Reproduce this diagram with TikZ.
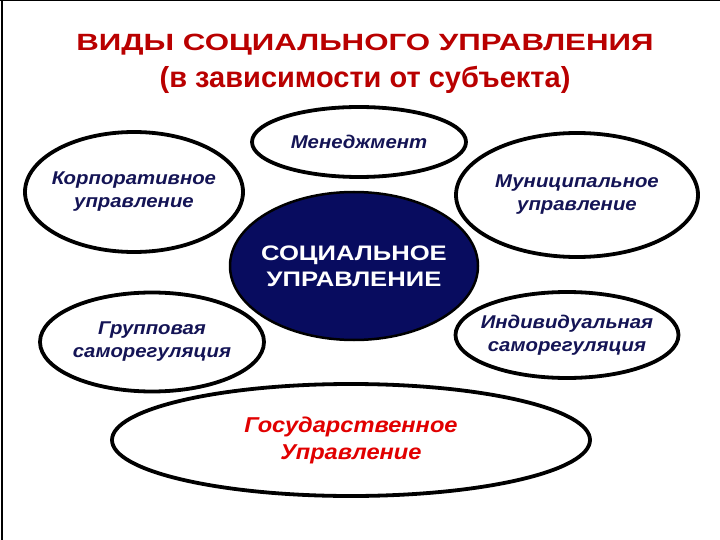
\documentclass[tikz,border=0pt]{standalone}
\usepackage{fontspec}
\setmainfont{Liberation Sans}
\newfontfamily\titlefont[FakeStretch=1.33]{Liberation Sans}
\newfontfamily\corefont[FakeStretch=1.22]{Liberation Sans}
\newfontfamily\labelfont[FakeStretch=1.1]{Liberation Sans}
\usepackage{xcolor}
\usetikzlibrary{shapes}
\usetikzlibrary{positioning}
\definecolor{titlered}{RGB}{185,0,0}
\definecolor{labelnavy}{RGB}{20,20,85}
\definecolor{corenavy}{RGB}{8,12,95}
\definecolor{statered}{RGB}{225,0,0}

\begin{document}
\begin{tikzpicture}[x=1pt, y=-1pt]
% tikz settings
\tikzstyle{block} = [ellipse, draw, line width=3.8pt, fill=white, inner xsep=-12pt, inner ysep=0pt,
    text=labelnavy, align=center, font=\labelfont\fontsize{18.5}{23}\selectfont\bfseries\itshape]
\tikzstyle{core} = [ellipse, draw, line width=2.5pt, fill=corenavy, inner xsep=-12pt, inner ysep=0pt,
    text=white, align=center, font=\corefont\fontsize{21}{26}\selectfont\bfseries]
\tikzstyle{heading} = [text=titlered, font=\titlefont\fontsize{23.5}{28}\selectfont\bfseries]

% frame
\useasboundingbox (0,0) rectangle (720,540);
\draw [line width=1.5pt] (0,0.75) -- (720,0.75);
\draw [line width=1.5pt] (2,0) -- (2,540);

% the tikz picture
\node [heading] (title) at (365,45) {ВИДЫ СОЦИАЛЬНОГО УПРАВЛЕНИЯ};
\node [heading, font=\fontsize{29}{34}\selectfont\bfseries, below=4pt of title] (subject) {(в зависимости от субъекта)};

\node [block, minimum width=214pt, minimum height=70pt] (management) at (359,142) {Менеджмент};
\node [block, minimum width=218pt, minimum height=120pt] (corporate) at (134,192) {Корпоративное\\управление};
\node [block, minimum width=242pt, minimum height=124pt] (municipal) at (577,195) {Муниципальное\\управление};
\node [core, minimum width=248pt, minimum height=148pt] (social) at (354,266) {СОЦИАЛЬНОЕ\\УПРАВЛЕНИЕ};
\node [block, minimum width=224pt, minimum height=99pt] (group) at (152,342) {Групповая\\саморегуляция};
\node [block, minimum width=223pt, minimum height=86pt] (individual) at (567,335) {Индивидуальная\\саморегуляция};
\node [block, minimum width=478pt, minimum height=112pt, text=statered,
    font=\labelfont\fontsize{21.5}{27}\selectfont\bfseries\itshape] (state) at (351,440) {Государственное\\Управление};
\end{tikzpicture}
\end{document}
